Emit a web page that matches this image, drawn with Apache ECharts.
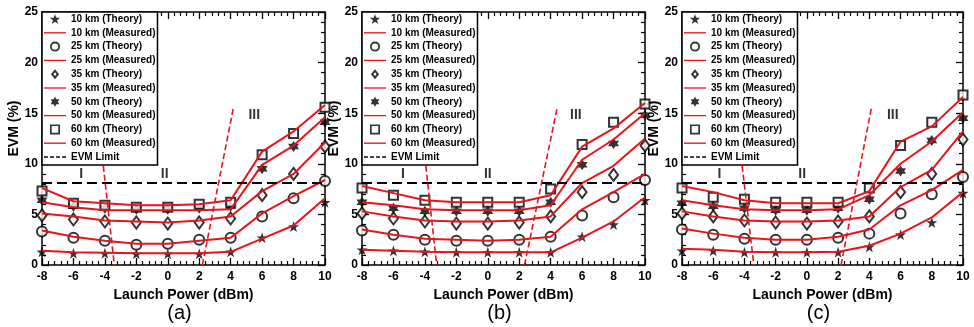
<!DOCTYPE html>
<html>
<head>
<meta charset="utf-8">
<script src="https://cdn.jsdelivr.net/npm/echarts@6/dist/echarts.min.js"></script>
<style>
html,body{margin:0;padding:0;background:#fff;}
#chart{width:974px;height:327px;}
</style>
</head>
<body>
<div id="chart"></div>
<script>
// x values shared by all panels
var launchPower=[-8,-6,-4,-2,0,2,4,6,8,10];
var distances=['10 km','25 km','35 km','50 km','60 km'];
var evmLimit=8.1;

// panel (a)
var theoryA=[
	[1.3,1.15,1.15,1.1,1.1,1.1,1.3,2.7,3.8,6.2],
	[3.3,2.7,2.4,2.0,2.1,2.5,2.7,4.8,6.6,8.3],
	[4.9,4.5,4.3,4.2,4.1,4.2,4.6,6.9,9.0,11.7],
	[6.4,5.8,5.6,5.5,5.5,5.6,5.8,9.5,11.7,14.1],
	[7.3,6.1,5.9,5.7,5.7,6.0,6.2,10.9,13.0,15.6]
];
var measuredA=[
	[1.4,1.25,1.2,1.15,1.15,1.15,1.3,2.6,3.9,6.6],
	[3.4,2.8,2.4,2.1,2.1,2.4,2.7,5.1,6.8,8.4],
	[5.1,4.8,4.4,4.3,4.2,4.4,4.8,7.3,9.0,12.1],
	[6.2,5.7,5.4,5.4,5.4,5.4,5.5,9.9,11.8,14.6],
	[7.6,6.3,6.1,5.9,5.9,6.0,6.4,11.2,13.2,15.8]
];
// panel (b)
var theoryB=[
	[1.5,1.4,1.3,1.25,1.25,1.25,1.25,2.8,4.0,6.4],
	[3.4,3.0,2.5,2.4,2.4,2.5,2.8,4.9,6.7,8.4],
	[5.1,4.6,4.3,4.1,4.1,4.2,4.8,7.2,8.9,11.8],
	[6.2,5.6,5.3,5.3,5.3,5.3,6.2,9.9,12.0,14.8],
	[7.6,6.9,6.4,6.2,6.2,6.2,7.5,11.9,14.1,15.9]
];
var measuredB=[
	[1.5,1.4,1.3,1.25,1.25,1.25,1.25,2.7,4.3,6.7],
	[3.5,3.0,2.6,2.5,2.4,2.5,2.8,5.5,7.2,9.0],
	[5.3,4.8,4.4,4.3,4.3,4.4,4.8,8.1,9.8,12.5],
	[6.2,5.9,5.5,5.4,5.4,5.4,5.9,10.4,12.4,15.0],
	[7.8,7.1,6.4,6.2,6.2,6.2,6.9,11.7,13.5,16.0]
];
// panel (c)
var theoryC=[
	[1.4,1.4,1.25,1.25,1.25,1.25,1.8,3.0,4.2,7.1],
	[3.5,3.0,2.6,2.5,2.5,2.7,3.1,5.1,7.0,8.7],
	[5.1,4.8,4.4,4.2,4.1,4.3,4.8,7.2,9.0,12.4],
	[6.1,5.8,5.6,5.4,5.4,5.6,6.5,9.3,12.3,14.5],
	[7.6,6.7,6.5,6.2,6.2,6.2,7.6,11.8,14.1,16.8]
];
var measuredC=[
	[1.6,1.5,1.3,1.25,1.25,1.3,1.9,3.1,4.7,7.2],
	[3.6,3.1,2.7,2.5,2.5,2.8,3.5,5.9,7.4,9.4],
	[5.3,4.8,4.4,4.3,4.3,4.4,4.8,7.7,9.4,13.2],
	[6.4,5.9,5.5,5.4,5.4,5.5,6.9,10.0,12.2,15.1],
	[7.8,7.2,6.4,6.1,6.1,6.1,7.3,12.2,13.7,16.6]
];
// red dashed boundaries between regions I / II / III
var boundaryA=[[[-4.1,9.8],[-3.4,0]],[[2.2,0],[4.17,15.5]]];
var boundaryB=[[[-3.94,9.8],[-3.25,0]],[[2.34,0],[4.41,15.5]]];
var boundaryC=[[[-4.15,9.8],[-3.4,0]],[[2.19,0],[4.13,15.5]]];
var regionNames=['I','II','III'];
var regionPosA=[[-5.5,9.0],[-0.2,9.0],[5.5,14.8]];
var regionPosB=[[-5.4,9.0],[0,9.0],[5.6,14.8]];
var regionPosC=[[-5.6,9.0],[-0.3,9.0],[5.5,14.8]];
var panelNames=['(a)','(b)','(c)'];

var panels=[
	{theory:theoryA,measured:measuredA,boundary:boundaryA,region:regionPosA,left:42,width:283},
	{theory:theoryB,measured:measuredB,boundary:boundaryB,region:regionPosB,left:362,width:283},
	{theory:theoryC,measured:measuredC,boundary:boundaryC,region:regionPosC,left:682,width:281}
];

var font='Arial, "Liberation Sans", sans-serif';
var red='#e8141c';
var starPath='path://M50,2 L61.8,38 L99,38 L69,60 L80.5,96 L50,74 L19.5,96 L31,60 L1,38 L38.2,38 Z';
var davidPath='path://M50,0 L64.4,25 L93.3,25 L78.9,50 L93.3,75 L64.4,75 L50,100 L35.6,75 L6.7,75 L21.1,50 L6.7,25 L35.6,25 Z';
var theorySymbols=[starPath,'emptyCircle','emptyDiamond',davidPath,'emptyRect'];
var theorySizes=[11,10,[9,12],11,9];
// legend icons (hollow shapes drawn as rings, lines as thin bars)
var ringCircle='path://M50,0 A50,50 0 1,1 50,100 A50,50 0 1,1 50,0 Z M50,18 A32,32 0 1,0 50,82 A32,32 0 1,0 50,18 Z';
var ringDiamond='path://M45,0 L90,55 L45,110 L0,55 Z M45,34 L28,55 L45,76 L62,55 Z';
var ringRect='path://M0,0 L100,0 L100,100 L0,100 Z M17,17 L17,83 L83,83 L83,17 Z';
var lineIcon='path://M0,0 L100,0 L100,6 L0,6 Z';
var dashIcon='path://M0,0 L18,0 L18,7 L0,7 Z M28,0 L46,0 L46,7 L28,7 Z M56,0 L74,0 L74,7 L56,7 Z M84,0 L102,0 L102,7 L84,7 Z';
var legendIcons=[starPath,ringCircle,ringDiamond,davidPath,ringRect];

function pairs(ys){
	var out=[];
	for(var i=0;i<launchPower.length;i++){
		out.push([launchPower[i],ys[i]]);
	}
	return out;
}

var grids=[],xAxes=[],yAxes=[],series=[],legends=[],graphics=[];
var legendData=[];
for(var k=0;k<distances.length;k++){
	legendData.push({name:distances[k]+' (Theory)',icon:legendIcons[k],itemStyle:{color:'#000'}});
	legendData.push({name:distances[k]+' (Measured)',icon:lineIcon,itemStyle:{color:red}});
}
legendData.push({name:'EVM Limit',icon:dashIcon,itemStyle:{color:'#000'}});

panels.forEach(function(p,g){
	grids.push({left:p.left,width:p.width,top:12,bottom:62});
	['bottom','top'].forEach(function(pos){
		xAxes.push({
			type:'value',gridIndex:g,position:pos,min:-8,max:10,interval:2,
			axisLine:{onZero:false,lineStyle:{color:'#000',width:1.5}},
			axisTick:{inside:true,length:7,lineStyle:{color:'#000',width:1.3}},
			minorTick:{show:true,splitNumber:5,length:4,lineStyle:{color:'#000',width:1.2}},
			splitLine:{show:false},
			axisLabel:{show:pos=='bottom',color:'#000',fontSize:12,fontWeight:'bold',fontFamily:font,margin:6},
			name:pos=='bottom'?'Launch Power (dBm)':'',
			nameLocation:'middle',nameGap:16,
			nameTextStyle:{color:'#000',fontSize:14,fontWeight:'bold',fontFamily:font}
		});
	});
	['left','right'].forEach(function(pos){
		yAxes.push({
			type:'value',gridIndex:g,position:pos,min:0,max:25,interval:5,
			axisLine:{onZero:false,lineStyle:{color:'#000',width:1.5}},
			axisTick:{inside:true,length:7,lineStyle:{color:'#000',width:1.3}},
			minorTick:{show:true,splitNumber:5,length:4,lineStyle:{color:'#000',width:1.2}},
			splitLine:{show:false},
			axisLabel:{show:pos=='left',color:'#000',fontSize:12,fontWeight:'bold',fontFamily:font,margin:4},
			name:pos=='left'?'EVM (%)':'',
			nameLocation:'middle',nameGap:18,
			nameTextStyle:{color:'#000',fontSize:14,fontWeight:'bold',fontFamily:font,padding:[0,0,0,20]}
		});
	});
	var xi=g*2,yi=g*2;
	for(var d=0;d<distances.length;d++){
		series.push({
			type:'scatter',name:distances[d]+' (Theory)',xAxisIndex:xi,yAxisIndex:yi,
			symbol:theorySymbols[d],symbolSize:theorySizes[d],
			itemStyle:{color:'#000'},z:2,
			data:pairs(p.theory[d])
		});
		series.push({
			type:'line',name:distances[d]+' (Measured)',xAxisIndex:xi,yAxisIndex:yi,
			symbol:'none',lineStyle:{color:red,width:2},itemStyle:{color:red},z:3,
			data:pairs(p.measured[d])
		});
	}
	series.push({
		type:'line',name:'EVM Limit',xAxisIndex:xi,yAxisIndex:yi,symbol:'none',
		lineStyle:{color:'#000',width:2,type:[10,5]},itemStyle:{color:'#000'},z:3,
		data:[[-8,evmLimit],[10,evmLimit]]
	});
	p.boundary.forEach(function(seg){
		series.push({
			type:'line',xAxisIndex:xi,yAxisIndex:yi,symbol:'none',silent:true,
			lineStyle:{color:red,width:1.6,type:[6,3]},z:3,
			data:seg
		});
	});
	series.push({
		type:'scatter',xAxisIndex:xi,yAxisIndex:yi,symbolSize:1,silent:true,
		itemStyle:{color:'rgba(0,0,0,0)'},
		label:{show:true,position:'inside',formatter:'{b}',color:'#000',fontSize:14,fontWeight:'bold',fontFamily:font},
		data:p.region.map(function(v,i){return {name:regionNames[i],value:v};})
	});
	legends.push({
		orient:'vertical',left:p.left,top:12,
		padding:[2,2,3,2],itemGap:3.8,itemWidth:22,itemHeight:10,
		backgroundColor:'#fff',borderColor:'#000',borderWidth:1.5,borderRadius:0,
		selectedMode:false,
		textStyle:{color:'#000',fontSize:10,fontWeight:'bold',fontFamily:font},
		data:legendData
	});
	graphics.push({
		type:'text',x:p.left+p.width/2-4,y:313,
		style:{text:panelNames[g],fill:'#000',fontSize:20,fontFamily:font,textAlign:'center',textVerticalAlign:'middle'}
	});
});

var myChart=echarts.init(document.getElementById('chart'));
myChart.setOption({
	animation:false,
	backgroundColor:'#fff',
	grid:grids,
	xAxis:xAxes,
	yAxis:yAxes,
	legend:legends,
	graphic:graphics,
	series:series
});
</script>
</body>
</html>
